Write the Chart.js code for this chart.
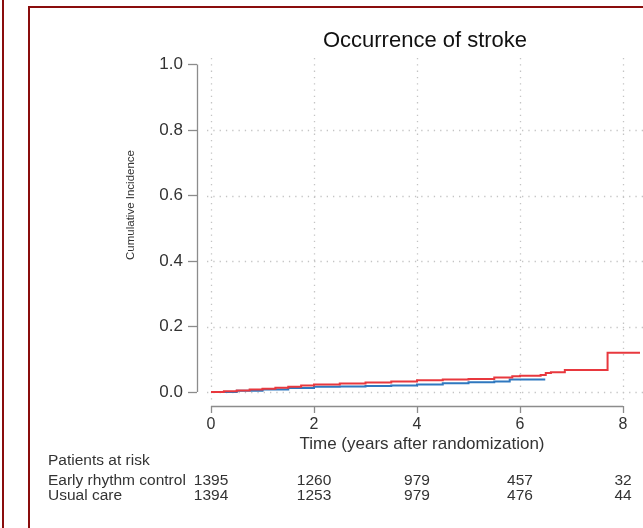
<!DOCTYPE html>
<html>
<head>
<meta charset="utf-8">
<title>Occurrence of stroke</title>
<script src="https://cdn.jsdelivr.net/npm/chart.js@4.4.1/dist/chart.umd.min.js"></script>
<style>
  html, body { margin: 0; padding: 0; background: #fff; }
  #wrap { position: relative; width: 643px; height: 528px; overflow: hidden; background: #fff; }
  #edge { position: absolute; left: 2px; top: 0; width: 2px; height: 528px; background: #8a0d0d; }
  #frame { position: absolute; left: 28px; top: 6px; width: 640px; height: 540px;
           border-left: 2px solid #8a0d0d; border-top: 2px solid #8a0d0d; }
  canvas { position: absolute; left: 0; top: 0; }
</style>
</head>
<body>
<div id="wrap">
  <div id="edge"></div>
  <div id="frame"></div>
  <canvas id="c" width="643" height="528"></canvas>
</div>
<script>
// Axis ticks
const years = [0, 2, 4, 6, 8];
const yTicks = [0, 0.2, 0.4, 0.6, 0.8, 1.0];
const yGrid = [0, 0.2, 0.4, 0.6, 0.8];

// Number at risk per group at each tick year
const groups = ['Early rhythm control', 'Usual care'];
const atRiskEarly = [1395, 1260, 979, 457, 32];
const atRiskUsual = [1394, 1253, 979, 476, 44];

// Cumulative incidence of stroke (step curves: time in years, incidence)
const earlyTime = [0, 0.5, 1.0, 1.5, 2.0, 2.5, 3.0, 3.5, 4.0, 4.5, 5.0, 5.5, 5.8, 6.49];
const earlyCI   = [0, 0.004, 0.008, 0.012, 0.016, 0.017, 0.018, 0.020, 0.023, 0.027, 0.030, 0.032, 0.038, 0.038];

const usualTime = [0, 0.25, 0.5, 0.75, 1.0, 1.25, 1.5, 1.75, 2.0, 2.5, 3.0, 3.5, 4.0, 4.5, 5.0, 5.5, 5.85, 6.0, 6.4, 6.5, 6.6, 6.87, 7.7, 8.33];
const usualCI   = [0, 0.002, 0.005, 0.008, 0.010, 0.013, 0.016, 0.020, 0.023, 0.026, 0.029, 0.032, 0.036, 0.038, 0.040, 0.044, 0.048, 0.050, 0.052, 0.058, 0.060, 0.067, 0.120, 0.120];

const toPoints = (t, v) => t.map((x, i) => ({ x: x, y: v[i] }));

const FONT = '"Liberation Sans", Arial, Helvetica, sans-serif';
const TEXT = '#333333';
const GRIDC = '#c4c4c4';
const AXISC = '#8c8c8c';

// Dotted reference grid, R-style axis lines, title and the at-risk table
const decor = {
  id: 'decor',
  beforeDatasetsDraw(chart) {
    const { ctx, chartArea: a, scales: { x, y } } = chart;
    ctx.save();
    ctx.strokeStyle = GRIDC;
    ctx.lineWidth = 1.3;
    ctx.setLineDash([1.3, 5]);
    years.forEach(t => {
      const px = Math.round(x.getPixelForValue(t)) + 0.5;
      ctx.beginPath(); ctx.moveTo(px, a.top + 3); ctx.lineTo(px, a.bottom - 6); ctx.stroke();
    });
    yGrid.forEach(v => {
      const py = Math.round(y.getPixelForValue(v)) + 0.5;
      ctx.beginPath(); ctx.moveTo(x.getPixelForValue(0) - 4, py); ctx.lineTo(a.right, py); ctx.stroke();
    });
    ctx.restore();
  },
  afterDraw(chart) {
    const { ctx, chartArea: a, scales: { x, y } } = chart;
    ctx.save();
    // axis lines spanning the tick range only
    ctx.strokeStyle = AXISC;
    ctx.lineWidth = 1.3;
    ctx.beginPath();
    ctx.moveTo(a.left + 0.5, y.getPixelForValue(yTicks[0]));
    ctx.lineTo(a.left + 0.5, y.getPixelForValue(yTicks[yTicks.length - 1]));
    ctx.stroke();
    ctx.beginPath();
    ctx.moveTo(x.getPixelForValue(years[0]), a.bottom + 0.5);
    ctx.lineTo(x.getPixelForValue(years[years.length - 1]), a.bottom + 0.5);
    ctx.stroke();

    // title
    ctx.fillStyle = '#111';
    ctx.font = '22px ' + FONT;
    ctx.textAlign = 'center';
    ctx.textBaseline = 'middle';
    ctx.fillText('Occurrence of stroke', 425, 41);

    // y axis title
    ctx.fillStyle = TEXT;
    ctx.font = '11.5px ' + FONT;
    ctx.save();
    ctx.translate(131, 205);
    ctx.rotate(-Math.PI / 2);
    ctx.fillText('Cumulative Incidence', 0, 0);
    ctx.restore();

    // x axis title
    ctx.font = '17px ' + FONT;
    ctx.fillText('Time (years after randomization)', 422, 444);

    // patients at risk table
    ctx.font = '15.5px ' + FONT;
    ctx.textAlign = 'left';
    ctx.fillText('Patients at risk', 48, 461);
    ctx.fillText(groups[0], 48, 481);
    ctx.fillText(groups[1], 48, 496);
    ctx.textAlign = 'center';
    years.forEach((t, i) => {
      const px = x.getPixelForValue(t);
      ctx.fillText(String(atRiskEarly[i]), px, 481);
      ctx.fillText(String(atRiskUsual[i]), px, 496);
    });
    ctx.restore();
  }
};

new Chart(document.getElementById('c'), {
  type: 'line',
  data: {
    datasets: [
      {
        label: groups[1],
        data: toPoints(usualTime, usualCI),
        borderColor: '#e8383e',
        borderWidth: 2,
        stepped: 'before',
        pointRadius: 0,
        fill: false
      },
      {
        label: groups[0],
        data: toPoints(earlyTime, earlyCI),
        borderColor: '#2f78bf',
        borderWidth: 2,
        stepped: 'before',
        pointRadius: 0,
        fill: false
      }
    ]
  },
  options: {
    responsive: false,
    animation: false,
    layout: { padding: { top: 55, left: 0, right: 0, bottom: 0 } },
    plugins: { legend: { display: false }, title: { display: false }, tooltip: { enabled: false } },
    scales: {
      x: {
        type: 'linear',
        min: -0.272,
        max: 8.388,
        afterFit: s => { s.height = 122; },
        afterBuildTicks: s => { s.ticks = years.map(v => ({ value: v })); },
        border: { display: false },
        grid: { display: true, drawOnChartArea: false, drawTicks: true, tickLength: 7, tickColor: AXISC, tickWidth: 1.3 },
        ticks: { color: TEXT, font: { family: FONT, size: 16 }, padding: 2, maxRotation: 0, callback: v => String(v) }
      },
      y: {
        type: 'linear',
        min: -0.0427,
        max: 1.0291,
        afterFit: s => { s.width = 197; },
        afterBuildTicks: s => { s.ticks = yTicks.map(v => ({ value: v })); },
        border: { display: false },
        grid: { display: true, drawOnChartArea: false, drawTicks: true, tickLength: 9, tickColor: AXISC, tickWidth: 1.3 },
        ticks: { color: TEXT, font: { family: FONT, size: 17 }, padding: 5, callback: v => v.toFixed(1) }
      }
    }
  },
  plugins: [decor]
});
</script>
</body>
</html>
